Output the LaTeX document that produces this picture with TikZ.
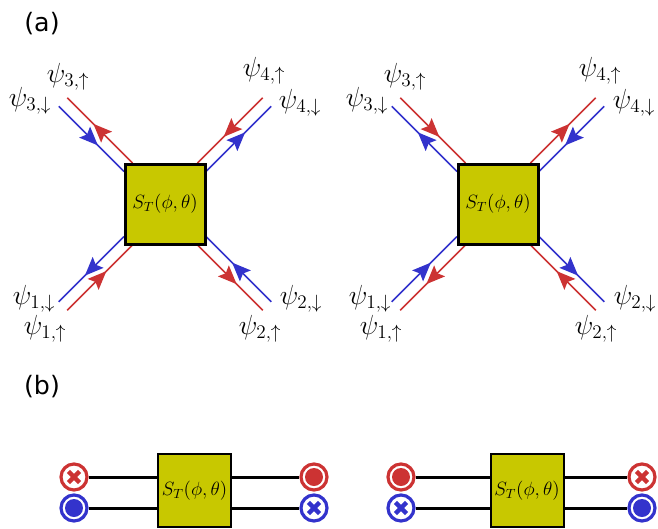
\documentclass[tikz,border=0pt]{standalone}
\usepackage{fontspec}
\newfontfamily\labfont{DejaVu Sans}
\usetikzlibrary{arrows.meta,decorations.markings,calc}
\definecolor{boxy}{RGB}{200,200,0}
\definecolor{myred}{RGB}{204,51,51}
\definecolor{myblue}{RGB}{51,51,204}
\tikzset{
  smat/.style={draw=black, line width=2.25pt, fill=boxy, minimum size=60pt, inner sep=0pt,
    font=\fontsize{14.5}{16}\selectfont},
  smatb/.style={draw=black, line width=1.5pt, fill=boxy, minimum size=54.75pt, inner sep=0pt,
    font=\fontsize{14.5}{16}\selectfont},
  flow/.style={line width=1.1pt, postaction={decorate},
    decoration={markings, mark=at position 0.6 with {\arrow{Stealth[length=14pt,width=11.5pt,inset=2.5pt]}}}},
  lab/.style={font=\fontsize{19.5}{22}\selectfont, inner sep=0pt},
  panel/.style={font=\labfont\fontsize{19}{22}\selectfont, inner sep=0pt},
  wire/.style={line width=2.25pt, black},
  sym/.style={circle, draw=#1, line width=2.4pt, minimum size=19.5pt, inner sep=0pt},
  dotsym/.style={sym=#1, path picture={\fill[#1] (path picture bounding box.center) circle (6.75pt);}},
  crosssym/.style={sym=#1, path picture={
     \draw[#1, line width=3.3pt] ($(path picture bounding box.center)+(-4.2pt,-4.2pt)$) -- ($(path picture bounding box.center)+(4.2pt,4.2pt)$);
     \draw[#1, line width=3.3pt] ($(path picture bounding box.center)+(-4.2pt,4.2pt)$) -- ($(path picture bounding box.center)+(4.2pt,-4.2pt)$);}},
}
\begin{document}
\begin{tikzpicture}[x=0.75pt, y=-0.75pt]
\useasboundingbox (0,0) rectangle (658,529);

% ---------- panel (a), left ----------
\foreach \q/\dx/\dy/\ra/\rb/\ba/\bb in {ul/-1/-1/i/o/o/i, ur/1/-1/o/i/i/o, ll/-1/1/o/i/i/o, lr/1/1/i/o/o/i} {
  \coordinate (L\q ro) at ({165+97.75*\dx},{204+106.25*\dy});
  \coordinate (L\q ri) at ({165+32.5*\dx},{204+41*\dy});
  \coordinate (L\q bo) at ({165+106.25*\dx},{204+97.75*\dy});
  \coordinate (L\q bi) at ({165+41*\dx},{204+32.5*\dy});
  \draw[flow, myred] (L\q r\ra) -- (L\q r\rb);
  \draw[flow, myblue] (L\q b\ba) -- (L\q b\bb);
}
\node[smat] (SL) at (165,204) {$S_T(\phi,\theta)$};

% ---------- panel (a), right ----------
\foreach \q/\dx/\dy/\ra/\rb/\ba/\bb in {ul/-1/-1/o/i/i/o, ur/1/-1/i/o/o/i, ll/-1/1/i/o/o/i, lr/1/1/o/i/i/o} {
  \coordinate (R\q ro) at ({498+97.75*\dx},{204+106.25*\dy});
  \coordinate (R\q ri) at ({498+32.5*\dx},{204+41*\dy});
  \coordinate (R\q bo) at ({498+106.25*\dx},{204+97.75*\dy});
  \coordinate (R\q bi) at ({498+41*\dx},{204+32.5*\dy});
  \draw[flow, myred] (R\q r\ra) -- (R\q r\rb);
  \draw[flow, myblue] (R\q b\ba) -- (R\q b\bb);
}
\node[smat] (SR) at (498,204) {$S_T(\phi,\theta)$};

% ---------- labels ----------
\node[lab] (l3u) at (68,77) {$\psi_{3,\uparrow}$};
\node[lab] (l3d) at (30,101) {$\psi_{3,\downarrow}$};
\node[lab] (l4u) at (264,71) {$\psi_{4,\uparrow}$};
\node[lab] (l4d) at (300,103) {$\psi_{4,\downarrow}$};
\node[lab] (l1d) at (34,299) {$\psi_{1,\downarrow}$};
\node[lab] (l1u) at (45,329) {$\psi_{1,\uparrow}$};
\node[lab] (l2d) at (301,299) {$\psi_{2,\downarrow}$};
\node[lab] (l2u) at (260,329) {$\psi_{2,\uparrow}$};

\node[lab] (r3u) at (405,77) {$\psi_{3,\uparrow}$};
\node[lab] (r3d) at (367,101) {$\psi_{3,\downarrow}$};
\node[lab] (r4u) at (600,71) {$\psi_{4,\uparrow}$};
\node[lab] (r4d) at (634,103) {$\psi_{4,\downarrow}$};
\node[lab] (r1d) at (370,299) {$\psi_{1,\downarrow}$};
\node[lab] (r1u) at (381,329) {$\psi_{1,\uparrow}$};
\node[lab] (r2d) at (635,299) {$\psi_{2,\downarrow}$};
\node[lab] (r2u) at (596,329) {$\psi_{2,\uparrow}$};

\node[panel] (pa) at (42,24) {(a)};
\node[panel] (pb) at (42,387) {(b)};

% ---------- panel (b), left ----------
\node[smatb] (BL) at (194.5,490.5) {$S_T(\phi,\theta)$};
\node[crosssym=myred] (bl1) at (74,477) {};
\node[dotsym=myblue] (bl2) at (74,508) {};
\node[dotsym=myred] (bl3) at (314,477) {};
\node[crosssym=myblue] (bl4) at (314,508) {};
\draw[wire] (bl1.east) -- (bl1.east -| BL.west);
\draw[wire] (bl2.east) -- (bl2.east -| BL.west);
\draw[wire] (bl3.west -| BL.east) -- (bl3.west);
\draw[wire] (bl4.west -| BL.east) -- (bl4.west);

% ---------- panel (b), right ----------
\node[smatb] (BR) at (527,490.5) {$S_T(\phi,\theta)$};
\node[dotsym=myred] (br1) at (401,477) {};
\node[crosssym=myblue] (br2) at (401,508) {};
\node[crosssym=myred] (br3) at (642,477) {};
\node[dotsym=myblue] (br4) at (642,508) {};
\draw[wire] (br1.east) -- (br1.east -| BR.west);
\draw[wire] (br2.east) -- (br2.east -| BR.west);
\draw[wire] (br3.west -| BR.east) -- (br3.west);
\draw[wire] (br4.west -| BR.east) -- (br4.west);
\end{tikzpicture}
\end{document}
